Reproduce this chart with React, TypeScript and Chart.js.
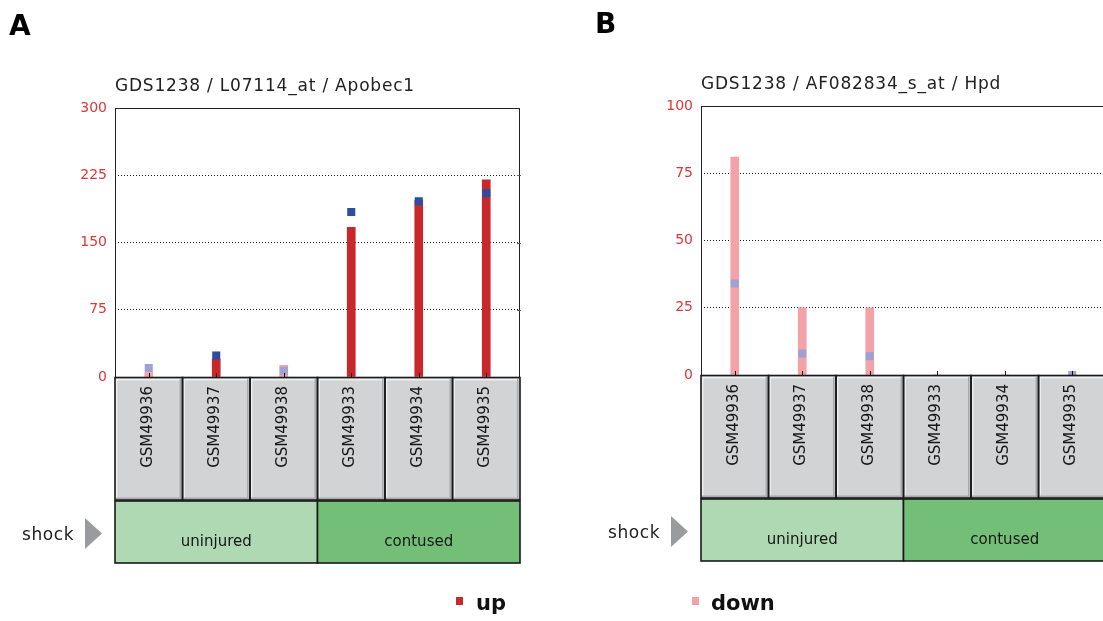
import React, { useEffect, useRef } from "react";
import { Chart, registerables } from "chart.js";

Chart.register(...registerables);

// ---------- data ----------
const samples = ["GSM49936", "GSM49937", "GSM49938", "GSM49933", "GSM49934", "GSM49935"];
const groups = ["uninjured", "contused"];
const groupSpans = [3, 3];
const factorName = "shock";

const titleA = "GDS1238 / L07114_at / Apobec1";
const valuesA = [5, 20, 13, 167, 197, 220];
const rankA: (number | null)[] = [10, 24, 7, 184, 196, 205];
const ticksA = [0, 75, 150, 225, 300];
const kindA = ["pale", "full", "pale", "full", "full", "full"];

const titleB = "GDS1238 / AF082834_s_at / Hpd";
const valuesB = [81, 25, 25, 0, 0, 0];
const rankB: (number | null)[] = [34, 8, 7, null, null, 0];
const ticksB = [0, 25, 50, 75, 100];
const kindB = ["pale", "pale", "pale", "pale", "pale", "pale"];

const legendLabels = ["up", "down"];

// ---------- styles ----------
const RED = "#c8272c";
const BLUE = "#2d4e9f";
const PINK = "#f3a3a8";
const LAVENDER = "#9ea1d2";
const GROUP_COLORS = ["#aed9b2", "#74bf78"];
const FONT = '"DejaVu Sans", sans-serif';

type Panel = {
  letter: string;
  title: string;
  values: number[];
  ranks: (number | null)[];
  ticks: number[];
  kinds: string[];
};

const panels: Panel[] = [
  { letter: "A", title: titleA, values: valuesA, ranks: rankA, ticks: ticksA, kinds: kindA },
  { letter: "B", title: titleB, values: valuesB, ranks: rankB, ticks: ticksB, kinds: kindB },
];

const CW = 560;
const CH = 621;
const BOX_BOTTOM = 500;
const GROUP_TOP = 501;
const GROUP_BOTTOM = 563;

function panelPlugin(p: Panel) {
  return {
    id: "panel" + p.letter,
    afterDraw(chart: any) {
      const ctx: CanvasRenderingContext2D = chart.ctx;
      const { left, right, top, bottom } = chart.chartArea;
      const xs = chart.scales.x;
      const ys = chart.scales.y;
      const n = samples.length;
      const cw = (right - left) / n;
      ctx.save();

      // plot border
      ctx.strokeStyle = "#222";
      ctx.lineWidth = 1;
      ctx.strokeRect(left + 0.5, top + 0.5, right - left - 1, bottom - top);

      // bottom ticks at categories
      ctx.strokeStyle = "#111";
      ctx.lineWidth = 1;
      for (let i = 0; i < n; i++) {
        const cx = Math.round(xs.getPixelForValue(i)) + 0.5;
        ctx.beginPath();
        ctx.moveTo(cx, bottom);
        ctx.lineTo(cx, bottom - 4);
        ctx.stroke();
      }
      // right-side blue ticks
      ctx.strokeStyle = "#4063b5";
      p.ticks.forEach((v, k) => {
        if (k === 0 || k === p.ticks.length - 1) return;
        const yy = Math.round(ys.getPixelForValue(v)) + 0.5;
        ctx.beginPath();
        ctx.moveTo(right - 3, yy);
        ctx.lineTo(right + 1, yy);
        ctx.stroke();
      });

      // sample boxes
      for (let i = 0; i < n; i++) {
        const bx = left + i * cw;
        ctx.fillStyle = "#d2d3d5";
        ctx.fillRect(bx, bottom + 1, cw, BOX_BOTTOM - bottom - 1);
        ctx.fillStyle = "#eeeeef";
        ctx.fillRect(bx + 1, bottom + 2, cw - 2, 1.5);
        ctx.fillRect(bx + 1, bottom + 2, 1.5, BOX_BOTTOM - bottom - 3);
        ctx.fillStyle = "#a9aaad";
        ctx.fillRect(bx + cw - 3, bottom + 2, 1.5, BOX_BOTTOM - bottom - 3);
        ctx.fillRect(bx + 1, BOX_BOTTOM - 2.5, cw - 2, 1.5);
      }
      ctx.strokeStyle = "#1a1a1a";
      ctx.lineWidth = 1.6;
      for (let i = 0; i < n; i++) {
        const bx = left + i * cw;
        ctx.strokeRect(bx, bottom + 0.5, cw, BOX_BOTTOM - bottom - 0.5);
      }
      ctx.fillStyle = "#161616";
      ctx.font = "15px " + FONT;
      ctx.textAlign = "right";
      ctx.textBaseline = "middle";
      for (let i = 0; i < n; i++) {
        ctx.save();
        ctx.translate(xs.getPixelForValue(i) - 1, bottom + 9);
        ctx.rotate(-Math.PI / 2);
        ctx.fillText(samples[i], 0, 0);
        ctx.restore();
      }

      // group bar
      let start = 0;
      groups.forEach((g, gi) => {
        const gx0 = left + start * cw;
        const gx1 = gx0 + groupSpans[gi] * cw;
        ctx.fillStyle = GROUP_COLORS[gi];
        ctx.fillRect(gx0, GROUP_TOP, gx1 - gx0, GROUP_BOTTOM - GROUP_TOP);
        ctx.strokeStyle = "#1a1a1a";
        ctx.lineWidth = 1.6;
        ctx.strokeRect(gx0, GROUP_TOP, gx1 - gx0, GROUP_BOTTOM - GROUP_TOP);
        ctx.fillStyle = "#161616";
        ctx.font = "15px " + FONT;
        ctx.textAlign = "center";
        ctx.textBaseline = "alphabetic";
        ctx.fillText(g, (gx0 + gx1) / 2, 546);
        start += groupSpans[gi];
      });

      // factor label + arrow
      ctx.fillStyle = "#222";
      ctx.font = "17px " + FONT;
      ctx.textAlign = "left";
      ctx.textBaseline = "alphabetic";
      (ctx as any).letterSpacing = "0.6px";
      ctx.fillText(factorName, 22, 540);
      ctx.fillStyle = "#9a9b9f";
      ctx.beginPath();
      ctx.moveTo(85, 518);
      ctx.lineTo(102, 533.5);
      ctx.lineTo(85, 549);
      ctx.closePath();
      ctx.fill();

      // title
      ctx.fillStyle = "#222";
      ctx.font = "17px " + FONT;
      (ctx as any).letterSpacing = "0.8px";
      ctx.fillText(p.title, 115, 91);
      (ctx as any).letterSpacing = "0px";

      // panel letter
      ctx.fillStyle = "#000";
      ctx.font = "bold 28px " + FONT;
      ctx.fillText(p.letter, 9, 35);

      ctx.restore();
    },
  };
}

function makeConfig(p: Panel): any {
  const max = p.ticks[p.ticks.length - 1];
  const barColors = p.kinds.map((k) => (k === "full" ? RED : PINK));
  const markColors = p.kinds.map((k) => (k === "full" ? BLUE : LAVENDER));
  return {
    type: "bar",
    data: {
      labels: samples,
      datasets: [
        {
          type: "line",
          data: p.ranks,
          showLine: false,
          pointStyle: "rect",
          pointRadius: 5.7,
          pointHoverRadius: 5.7,
          pointBackgroundColor: markColors,
          pointBorderWidth: 0,
          order: 0,
          clip: 0,
        },
        {
          type: "bar",
          data: p.values,
          backgroundColor: barColors,
          borderWidth: 0,
          barThickness: 8,
          order: 1,
        },
      ],
    },
    options: {
      animation: false,
      responsive: false,
      events: [],
      layout: { padding: { left: 75, top: 108, right: 40, bottom: CH - 377 } },
      plugins: {
        legend: { display: false },
        tooltip: { enabled: false },
        title: { display: false },
      },
      scales: {
        x: { display: false, offset: true },
        y: {
          min: 0,
          max,
          afterFit: (s: any) => {
            s.width = 40;
          },
          afterBuildTicks: (s: any) => {
            s.ticks = p.ticks.map((v) => ({ value: v }));
          },
          ticks: {
            color: "#d8383b",
            font: { family: "DejaVu Sans", size: 14 },
            padding: 8,
          },
          grid: {
            drawTicks: false,
            lineWidth: 1,
            color: (c: any) =>
              c.tick && (c.tick.value === 0 || c.tick.value === max) ? "rgba(0,0,0,0)" : "#1a1a1a",
          },
          border: { display: false, dash: [1, 2] },
        },
      },
    },
    plugins: [panelPlugin(p)],
  };
}

function PanelChart({ panel, left, top }: { panel: Panel; left: number; top: number }) {
  const ref = useRef<HTMLCanvasElement | null>(null);
  useEffect(() => {
    if (!ref.current) return;
    const chart = new Chart(ref.current, makeConfig(panel));
    return () => chart.destroy();
  }, [panel]);
  return (
    <canvas
      ref={ref}
      width={CW}
      height={CH}
      style={{ position: "absolute", left, top, width: CW, height: CH }}
    />
  );
}

export default function App() {
  const legendStyle = (x: number): React.CSSProperties => ({
    position: "absolute",
    left: x,
    top: 593,
    font: "bold 21px " + FONT,
    lineHeight: "21px",
    color: "#111",
    whiteSpace: "nowrap",
  });
  return (
    <div
      style={{
        position: "fixed",
        left: 0,
        top: 0,
        width: 1103,
        height: 621,
        overflow: "hidden",
        background: "#fff",
      }}
    >
      <PanelChart panel={panels[0]} left={0} top={0} />
      <PanelChart panel={panels[1]} left={586} top={-2} />
      <div style={{ position: "absolute", left: 456, top: 597, width: 7, height: 8, background: RED }} />
      <div style={legendStyle(476)}>{legendLabels[0]}</div>
      <div style={{ position: "absolute", left: 692, top: 597, width: 7, height: 8, background: PINK }} />
      <div style={legendStyle(711)}>{legendLabels[1]}</div>
    </div>
  );
}
